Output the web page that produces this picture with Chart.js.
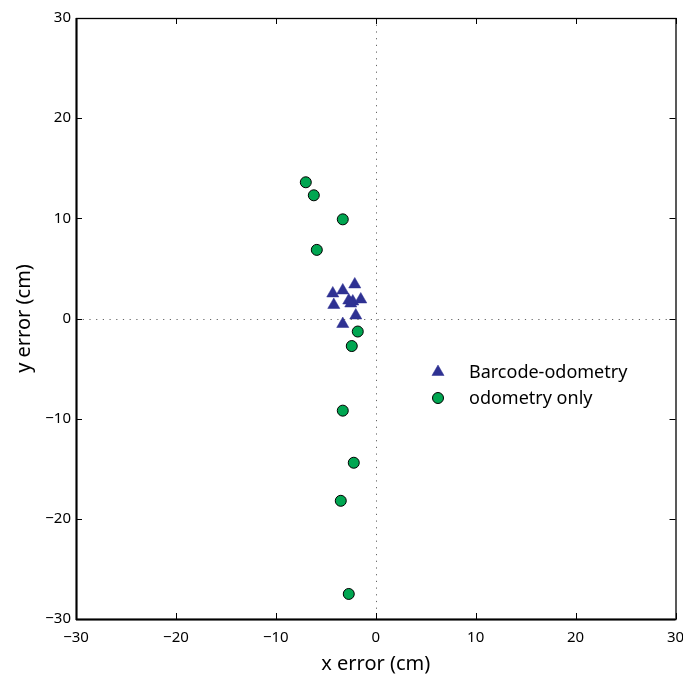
<!DOCTYPE html>
<html>
<head>
<meta charset="utf-8">
<script src="https://cdn.jsdelivr.net/npm/chart.js@4"></script>
<style>
  html, body { margin: 0; padding: 0; background: #fff; }
  #wrap { width: 683px; height: 677px; }
</style>
</head>
<body>
<div id="wrap"><canvas id="grafico"></canvas></div>
<script>
// datos (cm)
const barcodeX = [-2.1, -4.3, -3.3, -4.2, -2.7, -2.3, -2.5, -1.5, -2.0, -3.3];
const barcodeY = [3.4, 2.5, 2.8, 1.35, 1.8, 1.7, 1.5, 1.9, 0.3, -0.55];
const odomX = [-7.0, -6.2, -3.3, -5.9, -1.8, -2.4, -3.3, -2.2, -3.5, -2.7];
const odomY = [13.6, 12.3, 9.9, 6.85, -1.3, -2.75, -9.2, -14.4, -18.2, -27.5];
const ticksEje = [-30, -20, -10, 0, 10, 20, 30];
const etiquetas = ['Barcode-odometry', 'odometry only'];

const fuente = '"Noto Sans", "Open Sans", sans-serif';

// marco, ticks hacia dentro y lineas punteadas en cero
const marcoPlugin = {
    id: 'marco',
    afterDatasetsDraw(chart) {
        const { ctx, chartArea: a, scales: { x, y } } = chart;
        ctx.save();
        // lineas punteadas
        ctx.strokeStyle = '#666';
        ctx.lineWidth = 1;
        ctx.setLineDash([1.2, 5.5]);
        ctx.beginPath();
        const x0 = Math.round(x.getPixelForValue(0)) + 0.5;
        const y0 = Math.round(y.getPixelForValue(0)) + 0.5;
        ctx.moveTo(x0, a.top); ctx.lineTo(x0, a.bottom);
        ctx.moveTo(a.left, y0); ctx.lineTo(a.right, y0);
        ctx.stroke();
        ctx.setLineDash([]);
        // ticks
        ctx.strokeStyle = '#000';
        ctx.lineWidth = 1;
        ctx.beginPath();
        ticksEje.forEach(v => {
            const px = Math.round(x.getPixelForValue(v)) + 0.5;
            ctx.moveTo(px, a.bottom); ctx.lineTo(px, a.bottom - 6);
            ctx.moveTo(px, a.top); ctx.lineTo(px, a.top + 6);
            const py = Math.round(y.getPixelForValue(v)) + 0.5;
            ctx.moveTo(a.left, py); ctx.lineTo(a.left + 6, py);
            ctx.moveTo(a.right, py); ctx.lineTo(a.right - 6, py);
        });
        ctx.stroke();
        // caja
        ctx.lineWidth = 1.3;
        ctx.strokeRect(a.left + 0.5, a.top + 0.5, a.right - a.left, a.bottom - a.top);
        ctx.lineWidth = 2;
        ctx.beginPath();
        ctx.moveTo(a.left + 0.5, a.top); ctx.lineTo(a.left + 0.5, a.bottom + 1);
        ctx.moveTo(a.left, a.bottom + 0.5); ctx.lineTo(a.right, a.bottom + 0.5);
        ctx.stroke();
        ctx.restore();
    }
};

// leyenda dentro del area del grafico
const leyendaPlugin = {
    id: 'leyendaInterna',
    afterDraw(chart) {
        const { ctx } = chart;
        ctx.save();
        ctx.font = '18px ' + fuente;
        ctx.textBaseline = 'middle';
        ctx.fillStyle = '#000';
        chart.data.datasets.forEach((ds, i) => {
            const yy = 372 + i * 26;
            ctx.save();
            ctx.fillStyle = ds.backgroundColor;
            ctx.strokeStyle = ds.borderColor;
            ctx.lineWidth = ds.borderWidth;
            Chart.helpers.drawPoint(ctx, {
                pointStyle: ds.pointStyle,
                radius: ds.pointRadius,
                borderWidth: ds.borderWidth
            }, 438, yy);
            ctx.restore();
            ctx.fillText(ds.label, 469, yy + 1);
        });
        ctx.restore();
    }
};

const escala = (titulo, pad, padTicks) => ({
    type: 'linear',
    min: -30,
    max: 30,
    grid: { display: false, drawTicks: false },
    border: { display: false },
    afterBuildTicks(s) { s.ticks = ticksEje.map(v => ({ value: v })); },
    ticks: {
        font: { family: fuente, size: 15 },
        color: '#000',
        padding: padTicks,
        callback: v => String(v).replace('-', '\u2212')
    },
    title: {
        display: true,
        text: titulo,
        color: '#000',
        font: { family: fuente, size: 20 },
        padding: pad
    }
});

const escalaX = escala('x error (cm)', { top: 0, bottom: 1 }, 10);
escalaX.afterFit = s => { s.height = 58; s.paddingLeft = 0; s.paddingRight = 0; };
const escalaY = escala('y error (cm)', { top: 12, bottom: 0 }, 5);
escalaY.afterFit = s => { s.width = 76; s.paddingTop = 0; s.paddingBottom = 0; };

new Chart(document.getElementById('grafico'), {
    type: 'scatter',
    data: {
        datasets: [
            {
                label: etiquetas[0],
                data: barcodeX.map((v, i) => ({ x: v, y: barcodeY[i] })),
                pointStyle: 'triangle',
                pointRadius: 7,
                backgroundColor: '#2e3192',
                borderColor: '#2e3192',
                borderWidth: 0.5
            },
            {
                label: etiquetas[1],
                data: odomX.map((v, i) => ({ x: v, y: odomY[i] })),
                pointStyle: 'circle',
                pointRadius: 5.5,
                backgroundColor: '#00a651',
                borderColor: '#000',
                borderWidth: 1
            }
        ]
    },
    options: {
        responsive: true,
        maintainAspectRatio: false,
        animation: false,
        layout: { padding: { top: 18, right: 6, left: 0, bottom: 0 } },
        plugins: {
            legend: { display: false },
            tooltip: { enabled: false }
        },
        scales: { x: escalaX, y: escalaY }
    },
    plugins: [marcoPlugin, leyendaPlugin]
});
</script>
</body>
</html>
